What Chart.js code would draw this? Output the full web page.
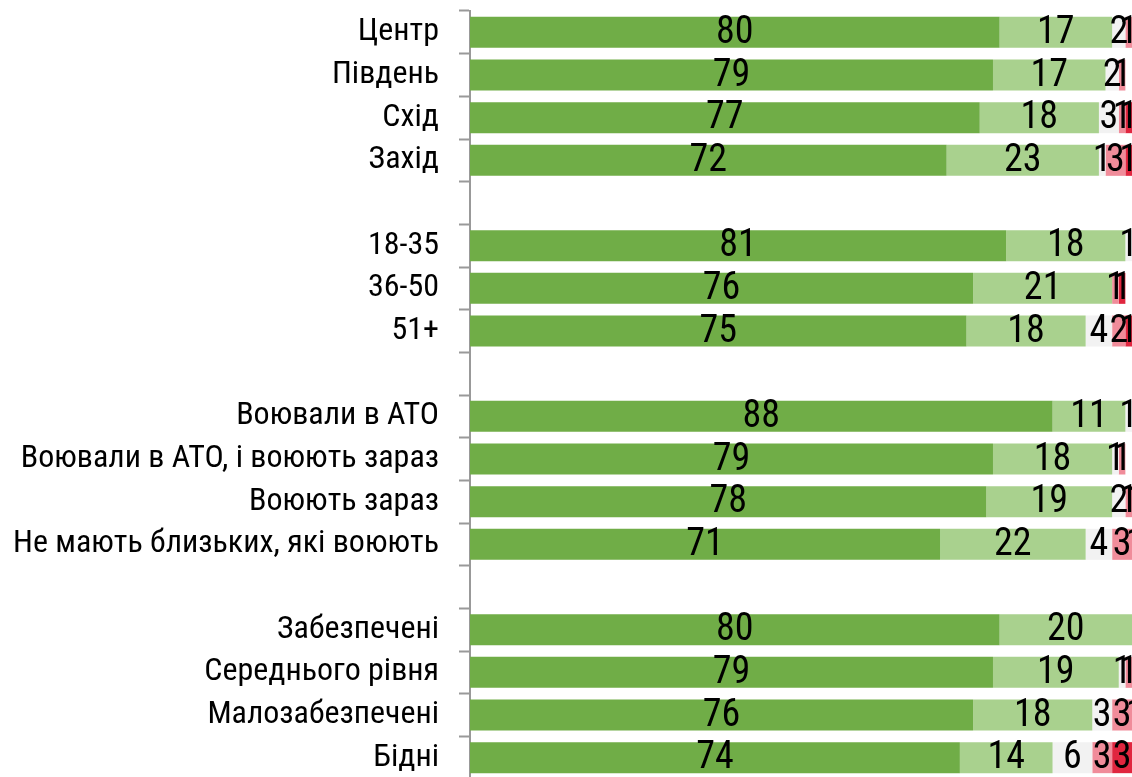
<!DOCTYPE html>
<html>
<head>
<meta charset="utf-8">
<script src="https://cdn.jsdelivr.net/npm/chart.js@4.4.1/dist/chart.umd.min.js"></script>
<style>
  html, body { margin: 0; padding: 0; background: #ffffff; overflow: hidden; }
  #wrap { width: 1132px; height: 782px; }
</style>
</head>
<body>
<div id="wrap"><canvas id="chart" width="1132" height="782"></canvas></div>
<script>
// Groups are separated by an empty row ('').
const categories = [
  'Центр', 'Південь', 'Схід', 'Захід', '',
  '18-35', '36-50', '51+', '',
  'Воювали в АТО', 'Воювали в АТО, і воюють зараз', 'Воюють зараз', 'Не мають близьких, які воюють', '',
  'Забезпечені', 'Середнього рівня', 'Малозабезпечені', 'Бідні'
];

// Shares, %, one array per answer option (null on the spacer rows)
const seriesDarkGreen  = [80, 79, 77, 72, null, 81, 76, 75, null, 88, 79, 78, 71, null, 80, 79, 76, 74];
const seriesLightGreen = [17, 17, 18, 23, null, 18, 21, 18, null, 11, 18, 19, 22, null, 20, 19, 18, 14];
const seriesGray       = [ 2,  2,  3,  1, null,  1,  0,  4, null,  1,  1,  2,  4, null,  0,  1,  3,  6];
const seriesPink       = [ 1,  1,  1,  3, null,  0,  1,  2, null,  0,  1,  1,  3, null,  0,  1,  3,  3];
const seriesRed        = [ 0,  0,  1,  1, null,  0,  1,  1, null,  0,  0,  1,  1, null,  0,  0,  1,  3];

const seriesColors = ['#70AD47', '#A9D18E', '#F2F2F2', '#F08C9A', '#E0263F'];

const LABEL_FONT = "'Liberation Sans Narrow', 'Arial Narrow', 'Roboto Condensed', 'Liberation Sans', sans-serif";

// Writes each segment's value in the middle of its segment
const segmentValues = {
  id: 'segmentValues',
  afterDatasetsDraw(chart) {
    const ctx = chart.ctx;
    ctx.save();
    ctx.font = '38px ' + LABEL_FONT;
    ctx.fillStyle = '#000000';
    ctx.textAlign = 'center';
    ctx.textBaseline = 'middle';
    chart.data.datasets.forEach((ds, di) => {
      const meta = chart.getDatasetMeta(di);
      meta.data.forEach((bar, i) => {
        const v = ds.data[i];
        if (v === null || v <= 0) return;
        const cx = (bar.base + bar.x) / 2;
        ctx.fillText(String(v), cx, bar.y + 1);
      });
    });
    ctx.restore();
  }
};

const data = {
  labels: categories,
  datasets: [seriesDarkGreen, seriesLightGreen, seriesGray, seriesPink, seriesRed].map((arr, k) => ({
    data: arr,
    backgroundColor: seriesColors[k],
    borderWidth: 0,
    barPercentage: 0.727,
    categoryPercentage: 1.0
  }))
};

new Chart(document.getElementById('chart'), {
  type: 'bar',
  data,
  plugins: [segmentValues],
  options: {
    indexAxis: 'y',
    responsive: false,
    animation: false,
    devicePixelRatio: 1,
    layout: { padding: { top: 11, bottom: 3, left: 0, right: 0 } },
    plugins: {
      legend: { display: false },
      tooltip: { enabled: false }
    },
    scales: {
      x: {
        stacked: true,
        display: false,
        min: 0,
        max: 100
      },
      y: {
        stacked: true,
        offset: true,
        grid: {
          offset: true,
          drawOnChartArea: false,
          drawTicks: true,
          tickLength: 11,
          tickWidth: 2,
          tickColor: '#999999'
        },
        border: { display: true, color: '#999999', width: 2 },
        ticks: {
          color: '#000000',
          padding: 20,
          font: { family: LABEL_FONT, size: 32 }
        },
        afterFit(scale) {
          scale.width = 470;
          scale.paddingTop = 0;
          scale.paddingBottom = 0;
        }
      }
    }
  }
});
</script>
</body>
</html>
